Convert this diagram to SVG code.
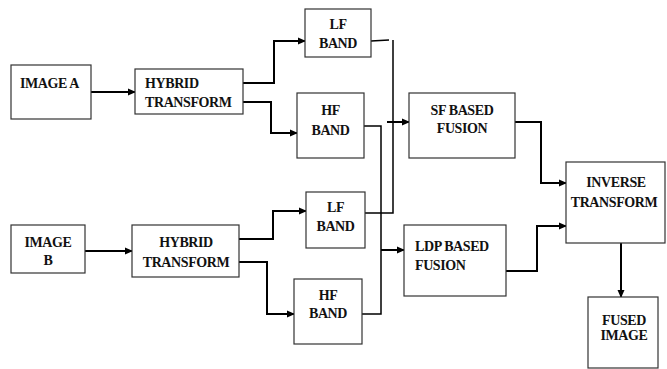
<svg xmlns="http://www.w3.org/2000/svg" width="667" height="369" viewBox="0 0 667 369">
<style>
.box{fill:#fff;stroke:#333;stroke-width:1.2}
.t{font-family:'Liberation Serif',Tinos,'Times New Roman','DejaVu Serif',serif;font-weight:bold;font-size:14px;letter-spacing:-0.4px;fill:#111}
.c{text-anchor:middle}
.ln{fill:none;stroke:#000;stroke-width:2}
.thin{fill:none;stroke:#000;stroke-width:1.5}
</style>
<defs>
<marker id="ah" markerWidth="8" markerHeight="8" refX="7" refY="4" orient="auto" markerUnits="userSpaceOnUse">
<path d="M0,0.5 L8,4 L0,7.5 Z" fill="#000"/>
</marker>
</defs>
<rect width="667" height="369" fill="#fff"/>
<g id="connectors">
<path class="ln" d="M91,92 H135" marker-end="url(#ah)"/>
<path class="ln" d="M243,83 H274 V41 H305" marker-end="url(#ah)"/>
<path class="ln" d="M243,102 H271 V133 H297" marker-end="url(#ah)"/>
<path class="ln" d="M85,251 H132" marker-end="url(#ah)"/>
<path class="ln" d="M239,239 H273 V211 H306" marker-end="url(#ah)"/>
<path class="ln" d="M239,262 H267 V314 H294" marker-end="url(#ah)"/>
<path class="thin" d="M371,41 L389,40 M393,40 V213 H365"/>
<path class="thin" d="M364,126 H381 V314 H362"/>
<path class="ln" d="M387,122 H409" marker-end="url(#ah)"/>
<path class="ln" d="M381,250 H404" marker-end="url(#ah)"/>
<path class="ln" d="M515,122 H541 V183 H566" marker-end="url(#ah)"/>
<path class="ln" d="M506,271 H537 V226 H566" marker-end="url(#ah)"/>
<path class="ln" d="M621,243 V297" marker-end="url(#ah)"/>
</g>
<g id="imageA"><rect class="box" x="11" y="65" width="80" height="54"/><text class="t" x="20" y="88">IMAGE A</text></g>
<g id="hybridA"><rect class="box" x="135" y="69" width="108" height="45"/><text class="t" x="145" y="88">HYBRID</text><text class="t" x="145" y="107">TRANSFORM</text></g>
<g id="lfA"><rect class="box" x="305" y="9" width="66" height="48"/><text class="t c" x="338" y="29">LF</text><text class="t c" x="338" y="48">BAND</text></g>
<g id="hfA"><rect class="box" x="297" y="93" width="67" height="65"/><text class="t c" x="330.5" y="115">HF</text><text class="t c" x="330.5" y="135">BAND</text></g>
<g id="imageB"><rect class="box" x="11" y="225" width="74" height="48"/><text class="t c" x="48" y="247">IMAGE</text><text class="t c" x="48" y="265">B</text></g>
<g id="hybridB"><rect class="box" x="132" y="225" width="107" height="52"/><text class="t c" x="186" y="247">HYBRID</text><text class="t c" x="186" y="267">TRANSFORM</text></g>
<g id="lfB"><rect class="box" x="306" y="192" width="59" height="56"/><text class="t c" x="335.5" y="212">LF</text><text class="t c" x="335.5" y="231">BAND</text></g>
<g id="hfB"><rect class="box" x="294" y="279" width="68" height="65"/><text class="t c" x="328" y="300">HF</text><text class="t c" x="328" y="318">BAND</text></g>
<g id="sf"><rect class="box" x="409" y="93" width="106" height="65"/><text class="t c" x="462" y="115">SF BASED</text><text class="t c" x="462" y="133">FUSION</text></g>
<g id="ldp"><rect class="box" x="404" y="225" width="102" height="71"/><text class="t" x="415" y="251">LDP BASED</text><text class="t" x="415" y="270">FUSION</text></g>
<g id="inverse"><rect class="box" x="566" y="162" width="99" height="81"/><text class="t c" x="616" y="187">INVERSE</text><text class="t c" x="614" y="207">TRANSFORM</text></g>
<g id="fused"><rect class="box" x="588" y="297" width="70" height="71"/><text class="t c" x="624" y="325">FUSED</text><text class="t c" x="624" y="340">IMAGE</text></g>
</svg>
